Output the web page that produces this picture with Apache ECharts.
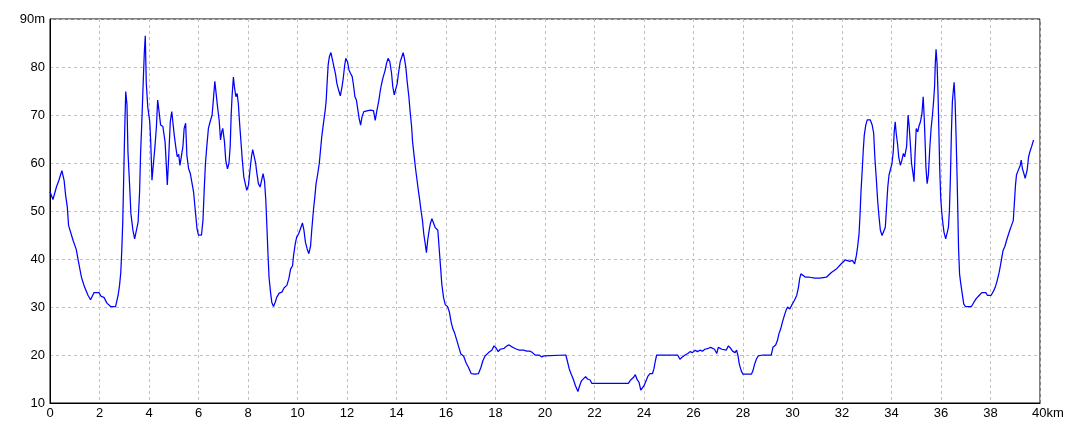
<!DOCTYPE html>
<html>
<head>
<meta charset="utf-8">
<title>Elevation profile</title>
<script src="https://cdn.jsdelivr.net/npm/echarts@6/dist/echarts.min.js"></script>
<style>
  html, body { margin: 0; padding: 0; background: #fff; }
  #chart { width: 1080px; height: 432px; }
</style>
</head>
<body>
<div id="chart"></div>
<script>
// distance along the route (km)
let distKm = [
  0, 0.12, 0.26, 0.36, 0.48, 0.57, 0.63, 0.70, 0.75, 0.82, 0.93, 1.06, 1.14, 1.27, 1.40, 1.54, 1.64, 1.78, 1.98, 2.07,
  2.18, 2.30, 2.45, 2.65, 2.75, 2.81, 2.86, 2.90, 2.94, 2.98, 3.02, 3.06, 3.11, 3.15, 3.22, 3.27, 3.35, 3.42, 3.49, 3.56,
  3.62, 3.66, 3.70, 3.76, 3.81, 3.85, 3.89, 3.95, 4.03, 4.07, 4.12, 4.19, 4.24, 4.30, 4.35, 4.40, 4.47, 4.56, 4.65, 4.70,
  4.74, 4.79, 4.86, 4.92, 4.97, 5.02, 5.08, 5.14, 5.20, 5.25, 5.32, 5.37, 5.42, 5.48, 5.53, 5.60, 5.67, 5.74, 5.80, 5.87,
  5.94, 6.00, 6.12, 6.18, 6.23, 6.28, 6.34, 6.40, 6.47, 6.55, 6.61, 6.66, 6.71, 6.77, 6.84, 6.89, 6.94, 6.98, 7.05, 7.10,
  7.17, 7.23, 7.28, 7.32, 7.36, 7.41, 7.45, 7.51, 7.56, 7.61, 7.66, 7.72, 7.77, 7.83, 7.88, 7.95, 8.02, 8.08, 8.14, 8.19,
  8.24, 8.31, 8.36, 8.42, 8.49, 8.55, 8.61, 8.67, 8.72, 8.77, 8.81, 8.85, 8.91, 8.96, 9.03, 9.10, 9.16, 9.26, 9.37, 9.46,
  9.57, 9.65, 9.72, 9.80, 9.84, 9.91, 9.97, 10.05, 10.12, 10.20, 10.26, 10.32, 10.39, 10.46, 10.53, 10.58, 10.65, 10.70, 10.75, 10.81,
  10.88, 10.93, 10.98, 11.05, 11.12, 11.16, 11.20, 11.24, 11.29, 11.35, 11.40, 11.47, 11.54, 11.59, 11.66, 11.73, 11.79, 11.85, 11.90, 11.95,
  12.02, 12.08, 12.14, 12.21, 12.26, 12.32, 12.38, 12.44, 12.49, 12.55, 12.61, 12.68, 12.76, 12.94, 13.07, 13.14, 13.20, 13.29, 13.34, 13.39,
  13.46, 13.53, 13.60, 13.66, 13.73, 13.80, 13.85, 13.91, 13.97, 14.03, 14.08, 14.15, 14.22, 14.27, 14.32, 14.38, 14.43, 14.50, 14.55, 14.61,
  14.65, 14.71, 14.77, 14.83, 14.89, 14.94, 14.99, 15.05, 15.10, 15.16, 15.21, 15.26, 15.32, 15.37, 15.43, 15.49, 15.56, 15.62, 15.67, 15.72,
  15.78, 15.83, 15.90, 15.97, 16.06, 16.14, 16.21, 16.28, 16.34, 16.44, 16.52, 16.60, 16.71, 16.81, 16.91, 17.02, 17.18, 17.31, 17.41, 17.49,
  17.58, 17.72, 17.85, 17.94, 18.03, 18.11, 18.19, 18.27, 18.35, 18.46, 18.55, 18.66, 18.77, 18.86, 18.97, 19.13, 19.27, 19.40, 19.49, 19.60,
  19.76, 19.87, 19.96, 20.02, 20.84, 20.90, 20.98, 21.06, 21.14, 21.23, 21.33, 21.40, 21.47, 21.55, 21.64, 21.72, 21.82, 21.89, 23.37, 23.46,
  23.57, 23.65, 23.73, 23.80, 23.87, 23.93, 24.00, 24.08, 24.16, 24.24, 24.34, 24.40, 24.46, 24.51, 25.36, 25.45, 25.55, 25.66, 25.77, 25.86,
  25.96, 26.07, 26.16, 26.26, 26.36, 26.46, 26.60, 26.69, 26.77, 26.85, 26.94, 27.00, 27.07, 27.15, 27.23, 27.32, 27.41, 27.50, 27.58, 27.68,
  27.74, 27.80, 27.85, 27.93, 28.00, 28.34, 28.40, 28.47, 28.54, 28.61, 28.67, 28.81, 29.14, 29.21, 29.32, 29.39, 29.45, 29.52, 29.59, 29.67,
  29.74, 29.80, 29.89, 29.98, 30.07, 30.17, 30.24, 30.29, 30.34, 30.42, 30.53, 30.69, 30.90, 31.10, 31.37, 31.57, 31.77, 31.97, 32.13, 32.31,
  32.42, 32.51, 32.58, 32.63, 32.69, 32.73, 32.77, 32.82, 32.86, 32.90, 32.96, 33.02, 33.14, 33.22, 33.28, 33.33, 33.39, 33.44, 33.49, 33.55,
  33.62, 33.68, 33.75, 33.80, 33.85, 33.90, 33.97, 34.02, 34.07, 34.11, 34.15, 34.19, 34.25, 34.29, 34.36, 34.42, 34.48, 34.53, 34.57, 34.61,
  34.67, 34.71, 34.76, 34.81, 34.87, 34.91, 34.95, 35.00, 35.06, 35.11, 35.17, 35.23, 35.26, 35.28, 35.32, 35.36, 35.39, 35.44, 35.49, 35.55,
  35.60, 35.66, 35.70, 35.74, 35.77, 35.80, 35.84, 35.88, 35.91, 35.95, 35.99, 36.03, 36.07, 36.12, 36.19, 36.25, 36.30, 36.34, 36.38, 36.42,
  36.46, 36.50, 36.53, 36.57, 36.61, 36.65, 36.68, 36.71, 36.75, 36.80, 36.86, 36.92, 36.99, 37.23, 37.33, 37.43, 37.54, 37.65, 37.81, 37.88,
  37.95, 38.02, 38.11, 38.19, 38.27, 38.35, 38.40, 38.46, 38.51, 38.58, 38.65, 38.71, 38.78, 38.85, 38.92, 38.98, 39.01, 39.05, 39.10, 39.16,
  39.20, 39.24, 39.29, 39.35, 39.40, 39.44, 39.48, 39.54, 39.59, 39.66, 39.71, 39.74
]

// elevation (m)
let elevM = [
  54, 52.4, 55, 56.4, 58.4, 56.4, 53.3, 50.8, 47, 46.6, 43.9, 42, 39.7, 36.2, 34.1, 32.4, 31.5, 33, 33, 32.2,
  32, 30.8, 30.1, 30.1, 32.4, 34.5, 37.2, 41.8, 47.7, 57.5, 67.2, 74.9, 72.1, 62.3, 55, 49.4, 46, 44.2, 44.6, 47.7,
  54, 62, 67.2, 75.9, 82.9, 86.5, 76.6, 71.7, 68.6, 64.4, 56.4, 56.8, 63.4, 67.6, 73.1, 71, 67.9, 67.6, 64.4, 59.5,
  55.4, 60.6, 68.6, 70.7, 71, 65.8, 63.4, 61.3, 61.8, 59.5, 59.9, 63.4, 67.2, 68.3, 61.6, 58.8, 57.8, 57.5, 54, 50.1,
  46.3, 45, 45, 48, 54.3, 59.9, 63.7, 67.2, 68.6, 70, 73.8, 77, 77.3, 71.7, 68.6, 64.8, 66.5, 67.2, 64.4, 60.6,
  58.8, 59.9, 63.4, 70, 74.2, 77.9, 75.9, 73.8, 74.5, 72.4, 68.3, 64.1, 60.6, 57.1, 56.8, 54.3, 55.4, 58.5, 61.3, 62.8,
  62.7, 59.9, 57.8, 55.7, 55, 55.4, 57.8, 56.1, 52.2, 46, 40.7, 36.2, 33.1, 31, 30.1, 31, 32, 32.9, 33.1, 34,
  34.5, 35.9, 37.9, 38.6, 40.7, 43.2, 44.6, 45.3, 46.3, 47.5, 46, 43.5, 42.1, 41.1, 42.8, 46.3, 50.5, 52.9, 55.7, 57.5,
  59.9, 62.7, 65.5, 68.3, 71, 73.1, 77, 80.5, 82.2, 83, 81.8, 80.1, 78.4, 76.6, 75.2, 74, 75.6, 77.7, 80.1, 81.8,
  81.1, 79.4, 78.7, 78, 76.3, 73.8, 73.1, 71, 69.3, 67.9, 69.7, 70.7, 71, 71, 70.9, 68.9, 70.7, 73.1, 74.9, 76.3,
  77.9, 79.1, 80.8, 81.8, 81.1, 78.7, 75.9, 74.2, 74.5, 76.6, 78.7, 81.1, 82.2, 83, 81.8, 79.8, 77, 73.8, 70.7, 67.6,
  64.4, 61.6, 58.8, 56.4, 54, 52.2, 50.1, 48, 45.3, 43.2, 41.3, 43.9, 46, 47.4, 48.4, 48, 46.6, 46.8, 46, 42.5,
  38.3, 34.8, 32, 30.5, 30.1, 28.9, 26.8, 25.4, 24.7, 23, 21.6, 20.2, 19.8, 18.4, 17.4, 16.1, 16, 16.1, 17.4, 18.8,
  19.8, 20.5, 21, 21.9, 21.4, 20.7, 21.2, 21.6, 21.4, 21.9, 22.1, 21.7, 21.4, 21.2, 21, 21, 20.8, 20.8, 20.5, 20,
  20, 19.6, 19.8, 20, 20, 18.8, 17.1, 16, 15, 13.6, 12.4, 13.6, 14.6, 15, 15.5, 15, 14.8, 14.1, 14.1, 14.8,
  15.3, 15.9, 14.8, 14.3, 12.7, 12.7, 13.6, 14.6, 15.6, 16.1, 16.1, 17.1, 18.8, 20, 20, 19.1, 19.6, 20, 20.3, 20.7,
  20.5, 21, 20.7, 21, 20.8, 21.2, 21.4, 21.6, 21.9, 21.2, 20.3, 21.6, 21.4, 21.2, 21.6, 21, 21.9, 21.4, 20.8, 20.5,
  21, 19.8, 18.1, 16.7, 16, 16, 16.7, 18.1, 19.1, 19.8, 20.2, 20, 20, 21.6, 22.1, 23, 24.4, 25.4, 26.8, 28.2,
  29.3, 30, 29.6, 30.5, 31.3, 32.4, 34.1, 35.9, 36.9, 36.5, 36.2, 36.2, 36, 36, 36.2, 37.2, 37.9, 39, 39.8, 39.5,
  39.7, 39, 40.7, 42.5, 45.3, 49.4, 54.3, 58.8, 62.7, 65.8, 67.9, 69, 69, 67.9, 66.2, 60.9, 56.4, 52.2, 49.1, 46,
  44.9, 45.3, 46.6, 50.8, 55, 57.5, 57.8, 59.9, 62.3, 66.5, 68.6, 66.2, 63.7, 61.3, 59.5, 60.6, 62, 61.3, 61.6, 63.4,
  70, 67.9, 64.1, 59.9, 57.8, 56.1, 61.6, 67.2, 66.5, 67.7, 68.6, 70.3, 72.4, 73.8, 69.7, 64.1, 59.2, 55.7, 57.5, 63.4,
  67.2, 70.3, 72.8, 75.9, 80.8, 83.7, 80.8, 74.5, 67.6, 58.5, 52.6, 49.8, 47.7, 45.6, 44.2, 44.6, 46.6, 50.1, 56.8, 66.2,
  72.8, 75.2, 76.8, 72.8, 65.5, 57.1, 49.8, 42.1, 36.9, 34.8, 32.7, 30.6, 30.1, 30.1, 31, 31.8, 32.4, 33, 33, 32.4,
  32, 32.4, 33.2, 34.1, 35.5, 37.2, 38.6, 40.4, 41.8, 42.6, 43.9, 44.9, 46, 47, 48, 48.4, 55.4, 57.5, 58.2, 58.5,
  59.5, 60.6, 58.8, 57.8, 56.8, 56.4, 58.5, 61.3, 62.3, 63.4, 63.7, 64.8
]

let points = distKm.map((d, i) => [d, elevM[i]])

let gridLine = { show: true, lineStyle: { color: '#c0c0c0', type: [3, 3], width: 1 } }
let labelFont = { color: '#000', fontFamily: 'Liberation Sans, Arial, sans-serif', fontSize: 13 }

let option = {
  backgroundColor: '#fff',
  animation: false,
  grid: { left: 50, right: 40, top: 19, bottom: 29, show: true, borderColor: '#000', borderWidth: 1 },
  xAxis: {
    type: 'value',
    min: 0,
    max: 40,
    interval: 2,
    axisLine: { lineStyle: { color: '#000' } },
    axisTick: { show: false },
    splitLine: gridLine,
    axisLabel: Object.assign({}, labelFont, {
      margin: 4,
      // keep "40" centred on its tick, "km" hangs to the right
      formatter: v => v === 40 ? '{p| }40km' : String(v),
      rich: { p: { width: 16 } }
    })
  },
  yAxis: {
    type: 'value',
    min: 10,
    max: 90,
    interval: 10,
    axisLine: { show: true, lineStyle: { color: '#000' } },
    axisTick: { show: false },
    splitLine: gridLine,
    axisLabel: Object.assign({}, labelFont, {
      margin: 5,
      formatter: v => v === 90 ? '90m' : String(v)
    })
  },
  series: [
    {
      type: 'line',
      data: points,
      showSymbol: false,
      symbol: 'none',
      lineStyle: { color: '#0000ff', width: 1.25 },
      silent: true
    }
  ]
}

let myChart = echarts.init(document.getElementById('chart'))
myChart.setOption(option)
</script>
</body>
</html>
